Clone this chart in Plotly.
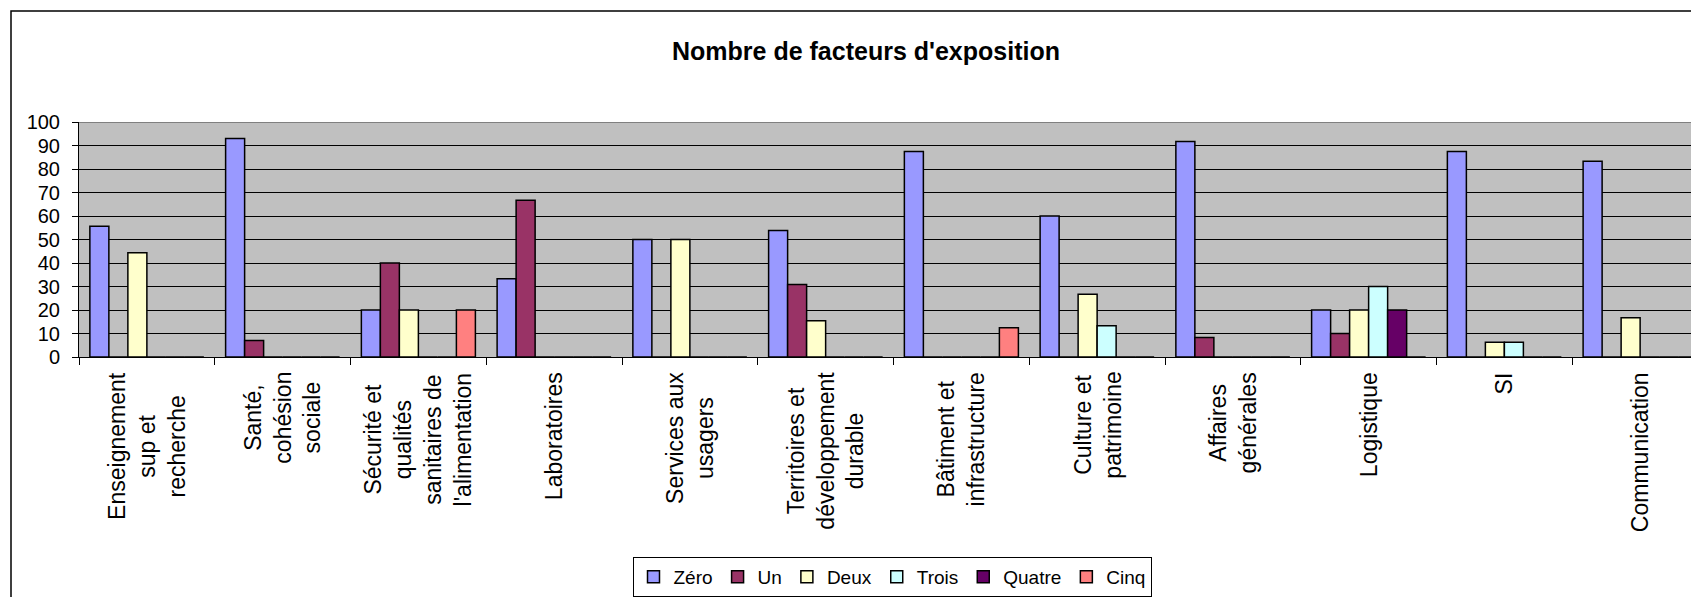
import plotly.graph_objects as go

categories = ["Enseignement<br>sup et<br>recherche", "Santé,<br>cohésion<br>sociale",
              "Sécurité et<br>qualités<br>sanitaires de<br>l'alimentation", "Laboratoires",
              "Services aux<br>usagers", "Territoires et<br>développement<br>durable",
              "Bâtiment et<br>infrastructure", "Culture et<br>patrimoine",
              "Affaires<br>générales", "Logistique", "SI", "Communication"]

zero   = [55.6, 93.0, 20, 33.3, 50, 53.8, 87.5, 60, 91.7, 20, 87.5, 83.3]
un     = [0, 7.0, 40, 66.7, 0, 30.8, 0, 0, 8.3, 10, 0, 0]
deux   = [44.4, 0, 20, 0, 50, 15.4, 0, 26.7, 0, 20, 6.25, 16.7]
trois  = [0, 0, 0, 0, 0, 0, 0, 13.3, 0, 30, 6.25, 0]
quatre = [0, 0, 0, 0, 0, 0, 0, 0, 0, 20, 0, 0]
cinq   = [0, 0, 20, 0, 0, 0, 12.5, 0, 0, 0, 0, 0]

series_names = ["Zéro", "Un", "Deux", "Trois", "Quatre", "Cinq"]
series_vals = [zero, un, deux, trois, quatre, cinq]
colors = ["#9999FF", "#993366", "#FFFFCC", "#CCFFFF", "#660066", "#FF8080"]

yticks = [0, 10, 20, 30, 40, 50, 60, 70, 80, 90, 100]

FONT = "Liberation Sans, Arial, sans-serif"
OFF = 8  # page body margin
W, H = 1699 - OFF, 597 - OFF
L, R, T, B = 79 - OFF, 0, 122 - OFF, 240
pw = W - L - R
ph = H - T - B
Y0 = 357 - OFF  # figure y of the zero line

xs = list(range(len(categories)))

fig = go.Figure()
for name, vals, col in zip(series_names, series_vals, colors):
    fig.add_trace(go.Bar(x=xs, y=vals, name=name,
                         marker=dict(color=col, line=dict(color="black", width=1.5))))

annotations = []
for i, lab in enumerate(categories):
    annotations.append(dict(x=i, y=(Y0 - (370 - OFF)) / ph, xref="x", yref="paper",
                            text=lab, showarrow=False, textangle=-90,
                            xanchor="center", yanchor="top", align="center",
                            font=dict(family=FONT, size=23, color="black")))

shapes = [
    dict(type="line", xref="paper", yref="y", x0=0, x1=1, y0=100, y1=100,
         line=dict(color="#808080", width=2), layer="above"),
    dict(type="rect", xref="paper", yref="paper",
         x0=(11 - 79) / pw, x1=1.05, y0=-1.3, y1=(357 - 11) / ph,
         line=dict(color="black", width=1.5), fillcolor="rgba(0,0,0,0)"),
]

fig.update_layout(
    width=W, height=H,
    margin=dict(l=L, r=R, t=T, b=B, autoexpand=False),
    paper_bgcolor="white", plot_bgcolor="#C0C0C0",
    barmode="group", bargap=0.16, bargroupgap=0,
    font=dict(family=FONT, color="black"),
    title=dict(text="<b>Nombre de facteurs d'exposition</b>", xref="container", yref="container",
               x=(866 - OFF) / W, y=1 - (51 - OFF) / H, xanchor="center", yanchor="middle",
               font=dict(family=FONT, size=25, color="black")),
    legend=dict(orientation="h", xref="paper", yref="paper", x=(892 - 79) / pw, y=(357 - 557) / ph,
                xanchor="center", yanchor="top", bordercolor="black", borderwidth=1,
                bgcolor="white", font=dict(family=FONT, size=19, color="black"),
                itemwidth=30, traceorder="normal"),
    annotations=annotations,
    shapes=shapes,
    showlegend=True,
)

fig.update_xaxes(type="linear", range=[-0.5, 11.5 - 9 / 135.7], showticklabels=False,
                 tickmode="array", tickvals=[i - 0.5 for i in range(13)],
                 ticks="outside", ticklen=7, tickcolor="black", tickwidth=1,
                 showline=True, linecolor="black", linewidth=1, showgrid=False, zeroline=False)
fig.update_yaxes(range=[0, 100], tickmode="array", tickvals=yticks,
                 ticks="outside", ticklen=6, tickcolor="black", tickwidth=1,
                 showline=True, linecolor="black", linewidth=1,
                 showgrid=True, gridcolor="black", gridwidth=1, zeroline=False,
                 tickfont=dict(family=FONT, size=20, color="black"), ticklabelstandoff=8)

fig.write_html("out.html")
